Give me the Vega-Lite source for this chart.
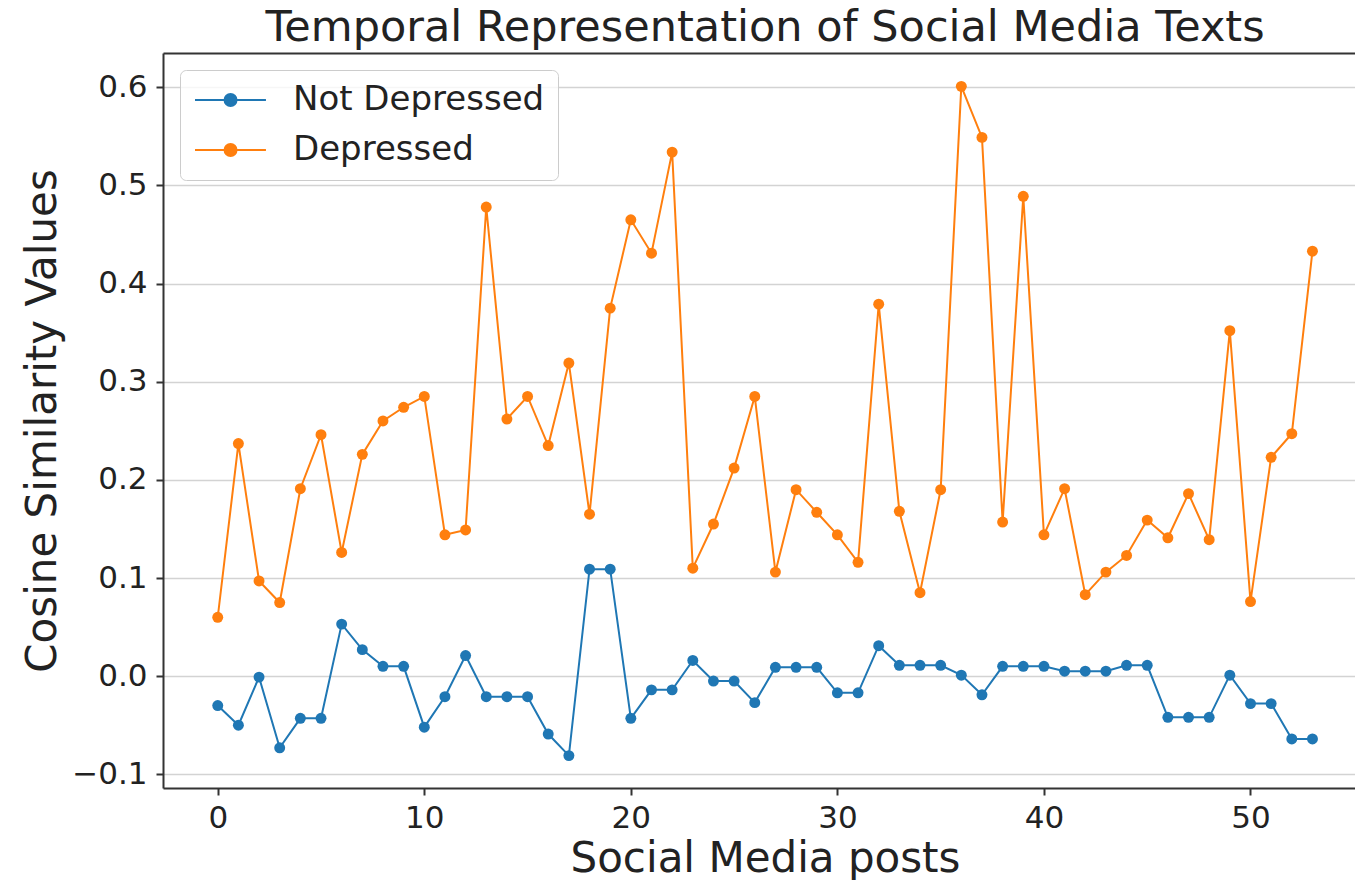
{
  "$schema": "https://vega.github.io/schema/vega-lite/v6.json",
  "width": 1192,
  "height": 735,
  "autosize": "none",
  "padding": {"left": 163, "top": 53, "right": 0, "bottom": 92},
  "background": "white",
  "config": {"view": {"stroke": null}, "font": "DejaVu Sans"},
  "title": {"text": "Temporal Representation of Social Media Texts", "fontSize": 43, "font": "DejaVu Sans", "fontWeight": "normal", "color": "#222", "anchor": "middle", "frame": "group", "offset": -31, "baseline": "alphabetic", "dx": 6},
  "data": {"values": [
    {"post": 0, "series": "Not Depressed", "value": -0.030},
    {"post": 1, "series": "Not Depressed", "value": -0.050},
    {"post": 2, "series": "Not Depressed", "value": -0.001},
    {"post": 3, "series": "Not Depressed", "value": -0.073},
    {"post": 4, "series": "Not Depressed", "value": -0.043},
    {"post": 5, "series": "Not Depressed", "value": -0.043},
    {"post": 6, "series": "Not Depressed", "value": 0.053},
    {"post": 7, "series": "Not Depressed", "value": 0.027},
    {"post": 8, "series": "Not Depressed", "value": 0.010},
    {"post": 9, "series": "Not Depressed", "value": 0.010},
    {"post": 10, "series": "Not Depressed", "value": -0.052},
    {"post": 11, "series": "Not Depressed", "value": -0.021},
    {"post": 12, "series": "Not Depressed", "value": 0.021},
    {"post": 13, "series": "Not Depressed", "value": -0.021},
    {"post": 14, "series": "Not Depressed", "value": -0.021},
    {"post": 15, "series": "Not Depressed", "value": -0.021},
    {"post": 16, "series": "Not Depressed", "value": -0.059},
    {"post": 17, "series": "Not Depressed", "value": -0.081},
    {"post": 18, "series": "Not Depressed", "value": 0.109},
    {"post": 19, "series": "Not Depressed", "value": 0.109},
    {"post": 20, "series": "Not Depressed", "value": -0.043},
    {"post": 21, "series": "Not Depressed", "value": -0.014},
    {"post": 22, "series": "Not Depressed", "value": -0.014},
    {"post": 23, "series": "Not Depressed", "value": 0.016},
    {"post": 24, "series": "Not Depressed", "value": -0.005},
    {"post": 25, "series": "Not Depressed", "value": -0.005},
    {"post": 26, "series": "Not Depressed", "value": -0.027},
    {"post": 27, "series": "Not Depressed", "value": 0.009},
    {"post": 28, "series": "Not Depressed", "value": 0.009},
    {"post": 29, "series": "Not Depressed", "value": 0.009},
    {"post": 30, "series": "Not Depressed", "value": -0.017},
    {"post": 31, "series": "Not Depressed", "value": -0.017},
    {"post": 32, "series": "Not Depressed", "value": 0.031},
    {"post": 33, "series": "Not Depressed", "value": 0.011},
    {"post": 34, "series": "Not Depressed", "value": 0.011},
    {"post": 35, "series": "Not Depressed", "value": 0.011},
    {"post": 36, "series": "Not Depressed", "value": 0.001},
    {"post": 37, "series": "Not Depressed", "value": -0.019},
    {"post": 38, "series": "Not Depressed", "value": 0.010},
    {"post": 39, "series": "Not Depressed", "value": 0.010},
    {"post": 40, "series": "Not Depressed", "value": 0.010},
    {"post": 41, "series": "Not Depressed", "value": 0.005},
    {"post": 42, "series": "Not Depressed", "value": 0.005},
    {"post": 43, "series": "Not Depressed", "value": 0.005},
    {"post": 44, "series": "Not Depressed", "value": 0.011},
    {"post": 45, "series": "Not Depressed", "value": 0.011},
    {"post": 46, "series": "Not Depressed", "value": -0.042},
    {"post": 47, "series": "Not Depressed", "value": -0.042},
    {"post": 48, "series": "Not Depressed", "value": -0.042},
    {"post": 49, "series": "Not Depressed", "value": 0.001},
    {"post": 50, "series": "Not Depressed", "value": -0.028},
    {"post": 51, "series": "Not Depressed", "value": -0.028},
    {"post": 52, "series": "Not Depressed", "value": -0.064},
    {"post": 53, "series": "Not Depressed", "value": -0.064},
    {"post": 0, "series": "Depressed", "value": 0.060},
    {"post": 1, "series": "Depressed", "value": 0.237},
    {"post": 2, "series": "Depressed", "value": 0.097},
    {"post": 3, "series": "Depressed", "value": 0.075},
    {"post": 4, "series": "Depressed", "value": 0.191},
    {"post": 5, "series": "Depressed", "value": 0.246},
    {"post": 6, "series": "Depressed", "value": 0.126},
    {"post": 7, "series": "Depressed", "value": 0.226},
    {"post": 8, "series": "Depressed", "value": 0.260},
    {"post": 9, "series": "Depressed", "value": 0.274},
    {"post": 10, "series": "Depressed", "value": 0.285},
    {"post": 11, "series": "Depressed", "value": 0.144},
    {"post": 12, "series": "Depressed", "value": 0.149},
    {"post": 13, "series": "Depressed", "value": 0.478},
    {"post": 14, "series": "Depressed", "value": 0.262},
    {"post": 15, "series": "Depressed", "value": 0.285},
    {"post": 16, "series": "Depressed", "value": 0.235},
    {"post": 17, "series": "Depressed", "value": 0.319},
    {"post": 18, "series": "Depressed", "value": 0.165},
    {"post": 19, "series": "Depressed", "value": 0.375},
    {"post": 20, "series": "Depressed", "value": 0.465},
    {"post": 21, "series": "Depressed", "value": 0.431},
    {"post": 22, "series": "Depressed", "value": 0.534},
    {"post": 23, "series": "Depressed", "value": 0.110},
    {"post": 24, "series": "Depressed", "value": 0.155},
    {"post": 25, "series": "Depressed", "value": 0.212},
    {"post": 26, "series": "Depressed", "value": 0.285},
    {"post": 27, "series": "Depressed", "value": 0.106},
    {"post": 28, "series": "Depressed", "value": 0.190},
    {"post": 29, "series": "Depressed", "value": 0.167},
    {"post": 30, "series": "Depressed", "value": 0.144},
    {"post": 31, "series": "Depressed", "value": 0.116},
    {"post": 32, "series": "Depressed", "value": 0.379},
    {"post": 33, "series": "Depressed", "value": 0.168},
    {"post": 34, "series": "Depressed", "value": 0.085},
    {"post": 35, "series": "Depressed", "value": 0.190},
    {"post": 36, "series": "Depressed", "value": 0.601},
    {"post": 37, "series": "Depressed", "value": 0.549},
    {"post": 38, "series": "Depressed", "value": 0.157},
    {"post": 39, "series": "Depressed", "value": 0.489},
    {"post": 40, "series": "Depressed", "value": 0.144},
    {"post": 41, "series": "Depressed", "value": 0.191},
    {"post": 42, "series": "Depressed", "value": 0.083},
    {"post": 43, "series": "Depressed", "value": 0.106},
    {"post": 44, "series": "Depressed", "value": 0.123},
    {"post": 45, "series": "Depressed", "value": 0.159},
    {"post": 46, "series": "Depressed", "value": 0.141},
    {"post": 47, "series": "Depressed", "value": 0.186},
    {"post": 48, "series": "Depressed", "value": 0.139},
    {"post": 49, "series": "Depressed", "value": 0.352},
    {"post": 50, "series": "Depressed", "value": 0.076},
    {"post": 51, "series": "Depressed", "value": 0.223},
    {"post": 52, "series": "Depressed", "value": 0.247},
    {"post": 53, "series": "Depressed", "value": 0.433}
  ]},
  "encoding": {
    "y": {
      "field": "value", "type": "quantitative",
      "scale": {"domain": [-0.114, 0.635], "nice": false, "zero": false},
      "axis": {
        "values": [-0.1, 0, 0.1, 0.2, 0.3, 0.4, 0.5, 0.6],
        "labelExpr": "replace(format(datum.value, '.1f'), '-', '−')",
        "labelFontSize": 31, "labelFont": "DejaVu Sans", "labelColor": "#222",
        "tickSize": 7, "tickWidth": 2, "tickColor": "#333",
        "domainColor": "#333", "domainWidth": 2,
        "labelPadding": 9,
        "grid": true, "gridColor": "#d3d3d3", "gridWidth": 1.5,
        "title": "Cosine Similarity Values", "titleFontSize": 42, "titleFont": "DejaVu Sans",
        "titleFontWeight": "normal", "titleColor": "#222",
        "titleX": -108, "titleY": 367.5, "titleBaseline": "alphabetic", "titleAngle": -90, "titleAlign": "center"
      }
    },
    "color": {
      "field": "series", "type": "nominal",
      "scale": {"domain": ["Not Depressed", "Depressed"], "range": ["#1f77b4", "#ff7f0e"]},
      "legend": {
        "orient": "none", "legendX": 17, "legendY": 17, "title": null,
        "symbolType": "M-1,0H3.73M0.97,0A0.4,0.4 0 1,0 1.77,0A0.4,0.4 0 1,0 0.97,0Z",
        "symbolSize": 900, "symbolStrokeWidth": 2,
        "labelFontSize": 34, "labelFont": "DejaVu Sans", "labelColor": "#222",
        "labelOffset": 66, "labelLimit": 500, "rowPadding": 16, "padding": 13,
        "fillColor": "rgba(255,255,255,0.8)", "strokeColor": "#cccccc", "cornerRadius": 6,
        "labelBaseline": "middle",
        "encode": {"symbols": {"update": {"fill": {"scale": "color", "field": "value"}, "stroke": {"scale": "color", "field": "value"}, "opacity": {"value": 1}}}}
      }
    }
  },
  "layer": [
    {
      "mark": {"type": "line", "strokeWidth": 2},
      "encoding": {
        "x": {
          "field": "post", "type": "quantitative",
          "scale": {"domain": [-2.65, 55.06], "nice": false, "zero": false},
          "axis": {"orient": "top", "labels": false, "ticks": false, "grid": false, "title": null, "domainColor": "#333", "domainWidth": 2}
        }
      }
    },
    {
      "mark": {"type": "point", "filled": true, "size": 120, "opacity": 1},
      "encoding": {
        "x": {
          "field": "post", "type": "quantitative",
          "scale": {"domain": [-2.65, 55.06], "nice": false, "zero": false},
          "axis": {
            "orient": "bottom", "values": [0, 10, 20, 30, 40, 50], "format": "d",
            "labelFontSize": 31, "labelFont": "DejaVu Sans", "labelColor": "#222",
            "tickSize": 7, "tickWidth": 2, "tickColor": "#333",
            "domainColor": "#333", "domainWidth": 2, "labelPadding": 8, "grid": false,
            "title": "Social Media posts", "titleFontSize": 42, "titleFont": "DejaVu Sans",
            "titleFontWeight": "normal", "titleColor": "#222",
            "titleX": 602, "titleY": 83, "titleBaseline": "alphabetic", "titleAlign": "center"
          }
        }
      }
    }
  ],
  "resolve": {"axis": {"x": "independent"}}
}
